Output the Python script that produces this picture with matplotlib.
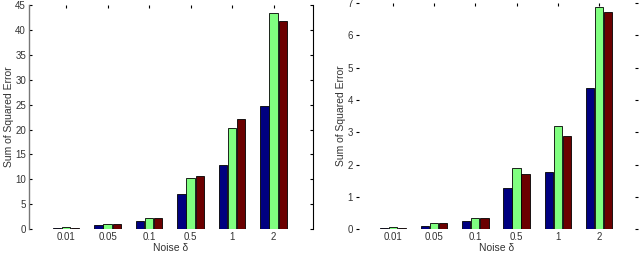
import numpy as np
import matplotlib
matplotlib.use('Agg')
import matplotlib.pyplot as plt

plt.rcParams['font.family'] = ['Liberation Sans', 'DejaVu Sans']

noise = ['0.01', '0.05', '0.1', '0.5', '1', '2']
colors = ['#000080', '#80ff80', '#6b0000']

# left panel (sum of squared error)
left_blue = [0.27, 0.74, 1.6, 7.0, 12.8, 24.8]
left_green = [0.35, 1.1, 2.3, 10.2, 20.4, 43.5]
left_red = [0.27, 1.1, 2.3, 10.6, 22.1, 41.8]

# right panel
right_blue = [0.04, 0.11, 0.25, 1.26, 1.78, 4.37]
right_green = [0.05, 0.18, 0.35, 1.88, 3.2, 6.88]
right_red = [0.04, 0.18, 0.35, 1.70, 2.88, 6.71]

txt = '#333333'

fig = plt.figure(figsize=(6.4, 2.54), dpi=100)
ax1 = fig.add_axes([0.045, 0.098, 0.444, 0.882])
ax2 = fig.add_axes([0.556, 0.098, 0.441, 0.890])

x = np.arange(1, len(noise) + 1)
w = 0.2
off = 0.22

def draw(ax, series, ymax, yticks):
    for i, vals in enumerate(series):
        ax.bar(x + (i - 1) * off, vals, w, color=colors[i],
               edgecolor='black', linewidth=0.6)
    ax.set_xlim(0.1, 6.95)
    ax.set_ylim(0, ymax)
    ax.set_xticks(x)
    ax.set_xticklabels(noise)
    ax.set_yticks(yticks)
    ax.tick_params(direction='in', length=2.5, labelsize=7,
                   labelcolor=txt, top=True, right=True, pad=2)
    ax.tick_params(axis='x', bottom=False, length=2.5)
    ax.set_xlabel('Noise δ', fontsize=7.5, color=txt, labelpad=1)
    ax.set_ylabel('Sum of Squared Error', fontsize=7.5, color=txt, labelpad=1)
    ax.spines['top'].set_visible(False)
    ax.spines['bottom'].set_visible(False)

draw(ax1, [left_blue, left_green, left_red], 45, np.arange(0, 46, 5))
draw(ax2, [right_blue, right_green, right_red], 7, np.arange(0, 8, 1))

ax1.spines['left'].set_color('#777777')
ax1.spines['left'].set_linewidth(1.0)
ax1.spines['right'].set_color('black')
ax2.spines['left'].set_visible(False)
ax2.spines['right'].set_visible(False)

fig.savefig('out.png', dpi=100)
